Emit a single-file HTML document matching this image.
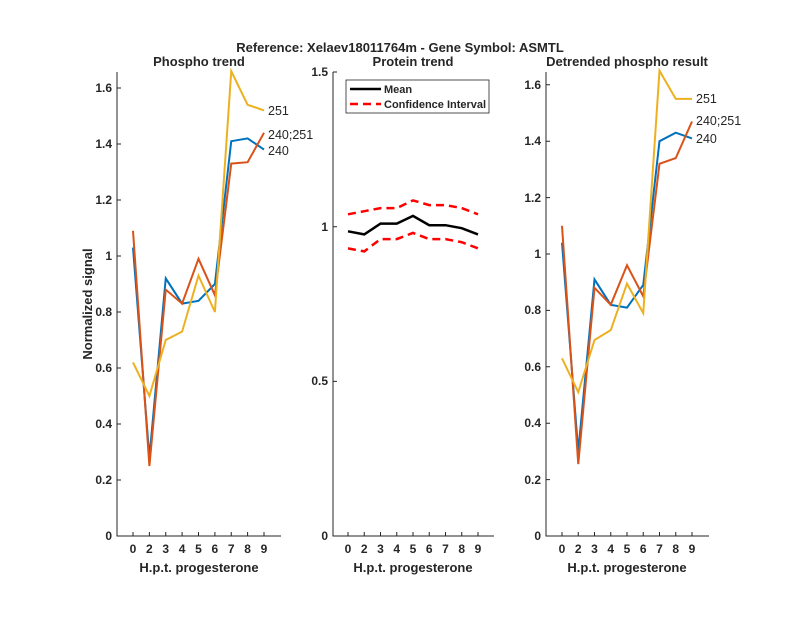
<!DOCTYPE html>
<html><head><style>body{margin:0;background:#fff}svg{display:block}text{font-family:"Liberation Sans",sans-serif;fill:#262626}</style></head>
<body>
<svg width="800" height="618" viewBox="0 0 800 618" xmlns="http://www.w3.org/2000/svg">
<text x="400" y="52" font-size="13" font-weight="bold" text-anchor="middle">Reference:  Xelaev18011764m - Gene Symbol:  ASMTL</text>
<g font-size="13" font-weight="bold" text-anchor="middle">
<text x="199" y="66">Phospho trend</text>
<text x="413" y="66">Protein trend</text>
<text x="627" y="66">Detrended phospho result</text>
<text x="199" y="572">H.p.t. progesterone</text>
<text x="413" y="572">H.p.t. progesterone</text>
<text x="627" y="572">H.p.t. progesterone</text>
<text transform="translate(92,304) rotate(-90)">Normalized signal</text>
</g>
<g stroke="#262626" stroke-width="1" fill="none">
<path d="M117,72V536H281"/><path d="M333,72V536H494"/><path d="M546,72V536H709"/>
<path d="M117,480h4M117,424h4M117,368h4M117,312h4M117,256h4M117,200h4M117,144h4M117,88h4"/>
<path d="M333,381.4h4M333,226.7h4M333,72h4"/>
<path d="M546,479.6h4M546,423.2h4M546,366.8h4M546,310.4h4M546,254h4M546,197.6h4M546,141.2h4M546,84.8h4"/>
<path d="M133,536v-4M149.4,536v-4M165.75,536v-4M182.1,536v-4M198.5,536v-4M214.9,536v-4M231.25,536v-4M247.6,536v-4M264,536v-4"/>
<path d="M348,536v-4M364.25,536v-4M380.5,536v-4M396.75,536v-4M413,536v-4M429.25,536v-4M445.5,536v-4M461.75,536v-4M478,536v-4"/>
<path d="M562,536v-4M578.25,536v-4M594.5,536v-4M610.75,536v-4M627,536v-4M643.25,536v-4M659.5,536v-4M675.75,536v-4M692,536v-4"/>
</g>
<g font-size="12" font-weight="bold" text-anchor="end">
<text x="112" y="540">0</text><text x="112" y="484">0.2</text><text x="112" y="428">0.4</text><text x="112" y="372">0.6</text><text x="112" y="316">0.8</text><text x="112" y="260">1</text><text x="112" y="204">1.2</text><text x="112" y="148">1.4</text><text x="112" y="92">1.6</text>
<text x="328" y="540">0</text><text x="328" y="385">0.5</text><text x="328" y="231">1</text><text x="328" y="76">1.5</text>
<text x="541" y="540">0</text><text x="541" y="484">0.2</text><text x="541" y="427">0.4</text><text x="541" y="371">0.6</text><text x="541" y="314">0.8</text><text x="541" y="258">1</text><text x="541" y="202">1.2</text><text x="541" y="145">1.4</text><text x="541" y="89">1.6</text>
</g>
<g font-size="12" font-weight="bold" text-anchor="middle">
<text x="133" y="553">0</text><text x="149.4" y="553">2</text><text x="165.75" y="553">3</text><text x="182.1" y="553">4</text><text x="198.5" y="553">5</text><text x="214.9" y="553">6</text><text x="231.25" y="553">7</text><text x="247.6" y="553">8</text><text x="264" y="553">9</text>
<text x="348" y="553">0</text><text x="364.25" y="553">2</text><text x="380.5" y="553">3</text><text x="396.75" y="553">4</text><text x="413" y="553">5</text><text x="429.25" y="553">6</text><text x="445.5" y="553">7</text><text x="461.75" y="553">8</text><text x="478" y="553">9</text>
<text x="562" y="553">0</text><text x="578.25" y="553">2</text><text x="594.5" y="553">3</text><text x="610.75" y="553">4</text><text x="627" y="553">5</text><text x="643.25" y="553">6</text><text x="659.5" y="553">7</text><text x="675.75" y="553">8</text><text x="692" y="553">9</text>
</g>
<g fill="none" stroke-width="2">
<polyline stroke="#0072BD" points="133,247.6 149.4,457.6 165.75,278.4 182.1,303.6 198.5,300.8 214.9,284 231.25,141.2 247.6,138.4 264,149.6"/>
<polyline stroke="#D95319" points="133,230.8 149.4,466 165.75,289.6 182.1,303.6 198.5,258.8 214.9,295.2 231.25,163.6 247.6,162.2 264,132.8"/>
<polyline stroke="#EDB120" points="133,362.4 149.4,396 165.75,340 182.1,331.6 198.5,275.6 214.9,312 231.25,71.2 247.6,104.8 264,110.4"/>
<polyline stroke="#0072BD" points="562,242.7 578.25,451.4 594.5,279.4 610.75,304.8 627,307.6 643.25,285 659.5,141.2 675.75,132.7 692,138.4"/>
<polyline stroke="#D95319" points="562,225.8 578.25,464.1 594.5,287.8 610.75,304.8 627,265.3 643.25,296.3 659.5,163.8 675.75,158.1 692,121.5"/>
<polyline stroke="#EDB120" points="562,358.3 578.25,392.2 594.5,340 610.75,330.1 627,283.6 643.25,313.2 659.5,70.7 675.75,98.9 692,98.9"/>
<polyline stroke="#000" stroke-width="2.5" points="348,231.3 364.25,234.4 380.5,223.6 396.75,223.6 413,215.9 429.25,225.2 445.5,225.2 461.75,228.2 478,234.4"/>
<polyline stroke="#FF0000" stroke-width="2.5" stroke-dasharray="8,5" points="348,214.3 364.25,211.2 380.5,208.1 396.75,208.1 413,200.4 429.25,205.1 445.5,205.1 461.75,208.1 478,214.3"/>
<polyline stroke="#FF0000" stroke-width="2.5" stroke-dasharray="8,5" points="348,248.4 364.25,251.4 380.5,239.1 396.75,239.1 413,232.9 429.25,239.1 445.5,239.1 461.75,242.2 478,248.4"/>
</g>
<g font-size="12.5">
<text x="268" y="115">251</text><text x="268" y="139">240;251</text><text x="268" y="155">240</text>
<text x="696" y="103">251</text><text x="696" y="125">240;251</text><text x="696" y="143">240</text>
</g>
<rect x="346" y="80" width="143" height="33" fill="#fff" stroke="#262626" stroke-width="0.8"/>
<line x1="350" y1="89" x2="381" y2="89" stroke="#000" stroke-width="2.5"/>
<line x1="350" y1="104" x2="381" y2="104" stroke="#FF0000" stroke-width="2.5" stroke-dasharray="8,5"/>
<g font-size="11" font-weight="bold"><text x="384" y="93">Mean</text><text x="384" y="108">Confidence Interval</text></g>
</svg>
</body></html>
